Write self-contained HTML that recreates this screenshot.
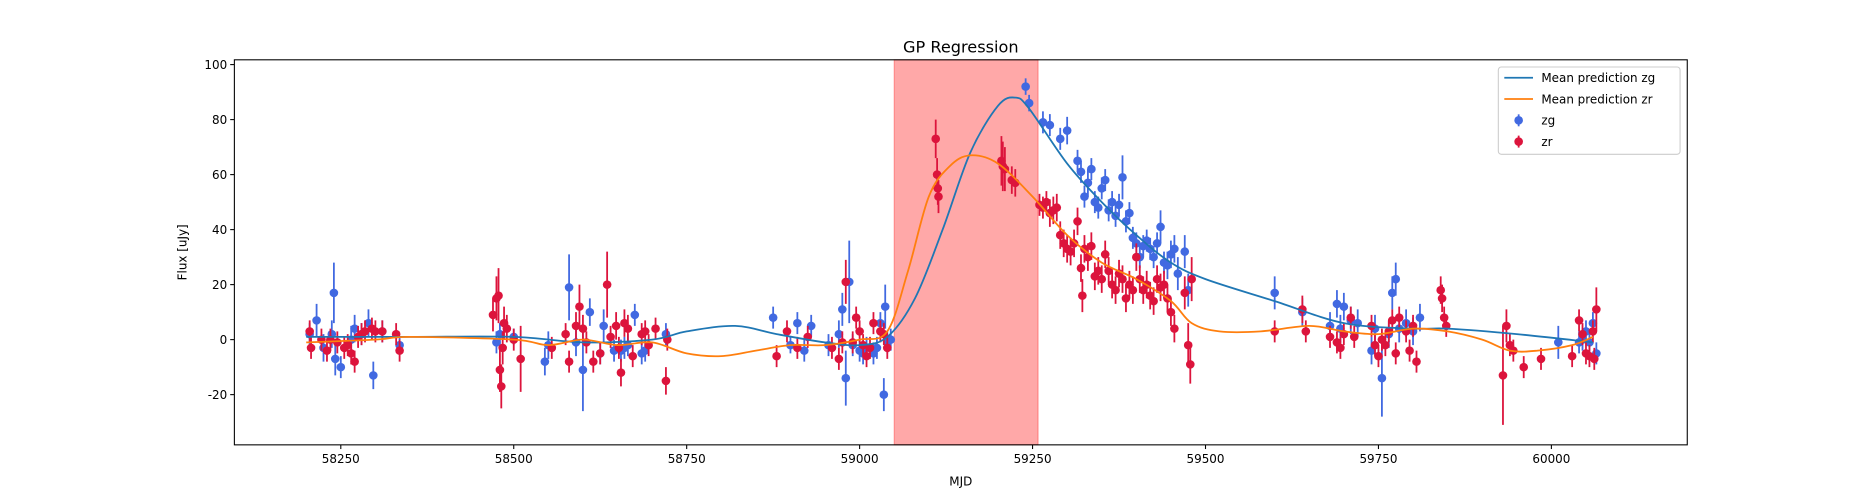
<!DOCTYPE html>
<html><head><meta charset="utf-8"><style>
html,body{margin:0;padding:0;background:#fff;}
svg{display:block;font-family:"DejaVu Sans","Liberation Sans",sans-serif;}
</style></head><body>
<svg id="chart" width="1875" height="500" viewBox="0 0 1568 418.1" xmlns="http://www.w3.org/2000/svg">
<rect x="0" y="0" width="1568" height="418.1" fill="#fff"/>
<g id="plot"></g>
</svg>
<script>
const xTicks=[58250,58500,58750,59000,59250,59500,59750,60000];
const yTicks=[-20,0,20,40,60,80,100];
const shadeRange=[59050,59258];
const zgData=[[58205,2,4],[58215,7,6],[58225,-3,5],[58237,2,5],[58240,17,11],[58242,-7,6],[58250,-10,4],[58265,0,5],[58270,4,5],[58280,2,4],[58290,6,5],[58297,-13,5],[58310,3,4],[58335,-2,3],[58475,-1,4],[58480,2,4],[58500,1,3],[58545,-8,5],[58550,-2,5],[58580,19,12],[58590,-1,5],[58600,-11,15],[58610,10,5],[58625,-5,4],[58630,5,6],[58645,-4,4],[58655,-4,4],[58660,-3,4],[58665,-2,4],[58675,9,4],[58685,-5,4],[58690,-4,4],[58720,2,4],[58875,8,4],[58900,-2,3],[58910,6,4],[58920,-4,4],[58930,5,4],[58955,-2,4],[58970,2,5],[58975,11,6],[58980,-14,10],[58985,21,15],[58990,-2,4],[59000,-4,4],[59005,-5,4],[59010,-3,4],[59020,-5,4],[59025,-3,4],[59030,6,4],[59035,-20,6],[59037,12,8],[59040,-1,4],[59045,0,4],
[59240,92,3],[59245,86,3],[59265,79,4],[59275,78,4],[59290,73,4],[59300,76,5],[59315,65,4],[59320,61,4],[59325,52,4],[59330,57,5],[59335,62,4],[59340,50,4],[59345,48,4],[59350,55,4],[59355,58,4],[59360,47,4],[59365,50,4],[59370,45,4],[59375,49,4],[59380,59,8],[59385,43,4],[59390,46,4],[59395,37,4],[59400,35,4],[59405,30,4],[59410,34,4],[59415,36,4],[59420,33,4],[59425,30,4],[59430,35,4],[59435,41,6],[59440,28,4],[59445,27,5],[59450,31,5],[59455,33,5],[59460,24,6],[59470,32,6],[59475,18,6],[59600,17,6],[59640,10,5],[59680,5,5],[59690,13,5],[59695,4,5],[59700,12,5],[59710,7,5],[59720,6,5],[59740,-4,5],[59745,4,5],[59755,-14,14],[59765,2,5],[59770,17,6],[59775,22,6],[59780,4,5],[59790,6,5],[59800,3,5],[59810,8,5],[60010,-1,6],[60040,-1,4],[60045,0,4],[60050,3,4],[60055,-1,4],[60060,6,4],[60065,-5,4]];
const zrData=[[58205,3,4],[58207,-3,4],[58222,0,4],[58230,-4,4],[58235,0,4],[58245,-1,4],[58255,-3,4],[58260,-2,4],[58265,-5,4],[58270,-8,4],[58275,1,4],[58280,2,4],[58285,3,4],[58295,4,4],[58300,3,4],[58310,3,4],[58330,2,4],[58335,-4,4],[58470,9,6],[58475,15,8],[58478,16,10],[58480,-11,8],[58482,-17,8],[58484,-3,6],[58486,6,6],[58490,4,5],[58500,0,4],[58510,-7,12],[58555,-3,4],[58575,2,4],[58580,-8,4],[58590,5,5],[58595,12,8],[58600,4,5],[58605,-1,4],[58615,-8,4],[58625,-5,4],[58635,20,12],[58640,1,4],[58648,5,5],[58652,-3,4],[58655,-12,5],[58660,6,5],[58665,4,5],[58672,-6,4],[58685,2,4],[58690,3,4],[58695,-2,4],[58705,4,4],[58720,-15,5],[58722,0,4],[58880,-6,4],[58895,3,4],[58910,-3,4],[58925,1,4],[58960,-3,4],[58970,-7,4],[58975,-1,4],[58980,21,8],[58990,-1,4],[58995,8,4],[59000,3,4],[59005,-2,4],[59010,-6,4],[59015,-3,4],[59020,6,4],[59030,3,4],[59035,2,4],[59040,-3,4],
[59110,73,7],[59112,60,6],[59113,55,6],[59114,52,6],[59205,65,9],[59207,63,9],[59210,62,8],[59220,58,5],[59225,57,5],
[59260,49,4],[59265,48,4],[59270,50,4],[59275,46,5],[59280,47,5],[59285,48,5],[59290,38,5],[59295,35,5],[59300,33,5],[59305,32,5],[59310,35,5],[59315,43,5],[59320,26,5],[59322,16,6],[59325,33,5],[59330,30,5],[59335,34,5],[59340,23,5],[59345,25,5],[59350,22,5],[59355,31,5],[59360,25,5],[59365,20,5],[59370,18,5],[59375,24,5],[59380,22,5],[59385,15,5],[59390,20,5],[59395,18,5],[59400,30,5],[59405,22,5],[59410,18,5],[59415,20,5],[59420,16,5],[59425,14,5],[59430,22,5],[59435,19,5],[59440,20,5],[59445,15,5],[59450,10,5],[59455,4,5],[59470,17,6],[59475,-2,8],[59478,-9,7],[59480,22,8],
[59600,3,4],[59640,11,5],[59645,3,4],[59680,1,4],[59690,-1,4],[59695,-3,4],[59700,2,4],[59710,8,4],[59715,1,4],[59740,5,4],[59745,-2,4],[59750,-6,4],[59755,0,4],[59760,-2,4],[59765,3,4],[59770,7,4],[59775,-5,4],[59780,8,4],[59790,3,4],[59795,-4,4],[59800,5,4],[59805,-8,4],[59840,18,5],[59842,15,5],[59845,8,4],[59848,5,4],[59930,-13,18],[59935,5,6],[59940,-2,4],[59945,-4,4],[59960,-10,4],[59985,-7,4],[60030,-6,4],[60040,7,4],[60045,2,4],[60050,-5,4],[60055,-6,4],[60060,3,4],[60062,-7,4],[60065,11,8]];
const zgMean=[[58200,1],[58350,1],[58500,1],[58600,-1],[58700,0],[58750,3],[58820,5],[58880,2],[58950,-1],[59000,-2],[59040,1],[59080,15],[59120,40],[59160,68],[59200,85],[59225,88],[59245,84],[59300,64],[59350,50],[59400,38],[59450,28],[59500,22],[59600,14],[59700,6],[59800,4],[59850,4],[59950,2],[60060,-1]];
const zrMean=[[58200,-1],[58300,0],[58350,1],[58500,0],[58550,-2],[58600,0],[58650,-2],[58700,-1],[58750,-5],[58800,-6],[58850,-4],[58900,-2],[58950,-2],[59000,0],[59040,3],[59070,25],[59100,52],[59130,63],[59160,67],[59200,64],[59250,52],[59300,38],[59350,28],[59400,22],[59450,14],[59480,6],[59520,3],[59580,3],[59650,5],[59700,3],[59750,2],[59800,4],[59850,3],[59900,0],[59940,-4],[59980,-4],[60030,-2],[60060,1]];

const L=196,R=1411,T=50,B=372;
const xs=v=>285+(v-58250)*0.5785;
const ys=v=>284-v*2.3;
const NS="http://www.w3.org/2000/svg";
const g=document.getElementById('plot');
function mk(t,a,p){const e=document.createElementNS(NS,t);for(const k in a)e.setAttribute(k,a[k]);(p||g).appendChild(e);return e;}

const title=mk('text',{x:(L+R)/2,y:44,'text-anchor':'middle','font-size':13.5,fill:'#000'});


title.textContent='GP Regression';

const shade=mk('rect',{x:xs(shadeRange[0]),y:T,width:xs(shadeRange[1])-xs(shadeRange[0]),height:B-T,fill:'#ff0000','fill-opacity':0.34,stroke:'#ff0000','stroke-opacity':0.3});



function smooth(pts){let d='M'+xs(pts[0][0])+','+ys(pts[0][1]);
for(let i=0;i<pts.length-1;i++){const p0=pts[Math.max(0,i-1)],p1=pts[i],p2=pts[i+1],p3=pts[Math.min(pts.length-1,i+2)];
const x0=xs(p0[0]),y0=ys(p0[1]),x1=xs(p1[0]),y1=ys(p1[1]),x2=xs(p2[0]),y2=ys(p2[1]),x3=xs(p3[0]),y3=ys(p3[1]);
d+=' C'+(x1+(x2-x0)/6)+','+(y1+(y2-y0)/6)+' '+(x2-(x3-x1)/6)+','+(y2-(y3-y1)/6)+' '+x2+','+y2;}
return d;}

function drawPts(data,color,name){
 const grp=mk('g',{});
 
 
 data.forEach(p=>{
  const x=xs(p[0]);
  const l=mk('line',{x1:x,x2:x,y1:ys(p[1]-p[2]),y2:ys(p[1]+p[2]),stroke:color,'stroke-width':1.5},grp);
  
  
  const c=mk('circle',{cx:x,cy:ys(p[1]),r:3.6,fill:color},grp);
  
  
 });
}
drawPts(zgData,'#4169e1','zg');
drawPts(zrData,'#dc143c','zr');

const m1=mk('path',{d:smooth(zgMean),fill:'none',stroke:'#1f77b4','stroke-width':1.5});


const m2=mk('path',{d:smooth(zrMean),fill:'none',stroke:'#ff7f0e','stroke-width':1.5});



// mask outside area
mk('rect',{x:0,y:0,width:L,height:418,fill:'#fff'});
mk('rect',{x:R,y:0,width:1568-R,height:418,fill:'#fff'});

const frame=mk('rect',{x:L,y:T,width:R-L,height:B-T,fill:'none',stroke:'#000','stroke-width':0.9});



xTicks.forEach(v=>{const x=xs(v);
 mk('line',{x1:x,x2:x,y1:B,y2:B+3.5,stroke:'#000','stroke-width':0.9});
 const t=mk('text',{x:x,y:B+15,'text-anchor':'middle','font-size':10,fill:'#000'});
 
 
 t.textContent=v;});
yTicks.forEach(v=>{const y=ys(v);
 mk('line',{x1:L-3.5,x2:L,y1:y,y2:y,stroke:'#000','stroke-width':0.9});
 const t=mk('text',{x:L-6,y:y+3.5,'text-anchor':'end','font-size':10,fill:'#000'});
 
 
 t.textContent=v;});
const xl=mk('text',{x:(L+R)/2,y:406,'text-anchor':'middle','font-size':10,fill:'#000'});


xl.textContent='MJD';
const yl=mk('text',{x:0,y:0,transform:'translate(156,211) rotate(-90)','text-anchor':'middle','font-size':10,fill:'#000'});


yl.textContent='Flux [uJy]';

const leg=mk('g',{});


mk('rect',{x:1253,y:56,width:152,height:73,rx:2.5,fill:'#fff','fill-opacity':0.8,stroke:'#ccc','stroke-width':0.9},leg);
const entries=[['line','#1f77b4','Mean prediction zg'],['line','#ff7f0e','Mean prediction zr'],['pt','#4169e1','zg'],['pt','#dc143c','zr']];
entries.forEach((e,i)=>{const y=65+i*17.8;
 const eg=mk('g',{},leg);
 
 
 if(e[0]==='line')mk('line',{x1:1258,x2:1282,y1:y,y2:y,stroke:e[1],'stroke-width':1.5},eg);
 else{mk('line',{x1:1270,x2:1270,y1:y-5,y2:y+5,stroke:e[1],'stroke-width':1.5},eg);mk('circle',{cx:1270,cy:y,r:3.6,fill:e[1]},eg);}
 const t=mk('text',{x:1289,y:y+3.6,'font-size':10,fill:'#000'},eg);t.textContent=e[2];});
</script>
</body></html>
